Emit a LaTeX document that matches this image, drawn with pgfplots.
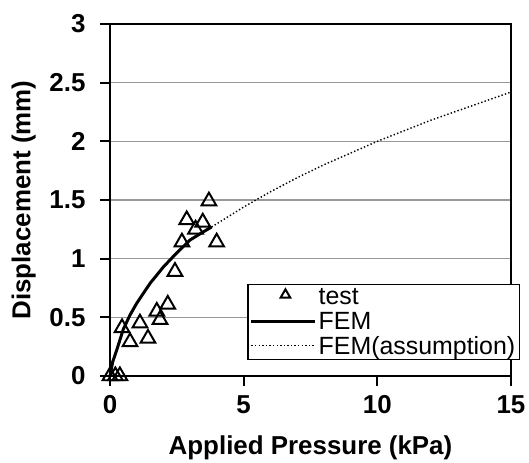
\documentclass[border=0pt]{standalone}
\usepackage{pgfplots}
\pgfplotsset{compat=1.18}
\usepackage{fontspec}
\setmainfont{Liberation Sans}
\begin{document}
\begin{tikzpicture}
\useasboundingbox (-110bp,-87bp) rectangle (419bp,376bp);
\begin{axis}[
  scale only axis,
  width=401bp, height=352bp,
  xmin=0, xmax=15, ymin=0, ymax=3,
  xtick={0,5,10,15},
  ytick={0,0.5,1,1.5,2,2.5,3},
  xtick pos=left, ytick pos=left,
  tick align=outside,
  major tick length=10bp,
  axis line style={black, line width=2.2pt},
  every tick/.style={black, line width=2.2pt},
  ymajorgrids,
  major grid style={gray!80, line width=1.3pt},
  /pgf/number format/assume math mode=true,
  tick label style={font=\fontsize{26}{28}\selectfont\bfseries},
  xticklabel style={yshift=-6bp},
  yticklabel style={xshift=-11bp},
  xlabel={Applied Pressure (kPa)},
  ylabel={Displacement (mm)},
  every axis x label/.style={at={(axis description cs:0.5,-0.224)}, anchor=base, font=\fontsize{26}{28}\selectfont\bfseries},
  every axis y label/.style={at={(axis description cs:-0.215,0.5)}, rotate=90, anchor=center, font=\fontsize{26}{28}\selectfont\bfseries},
  legend style={at={(rel axis cs:1.022,0.045)}, anchor=south east, draw=black, line width=1.2pt,
    font=\fontsize{25}{27}\selectfont, cells={anchor=west}, inner sep=2bp, row sep=1.5bp},
  clip=false,
]
\addplot[only marks, mark=triangle, mark size=8.5bp, mark options={line width=2pt, black, fill=none},
  legend image code/.code={\draw[line width=0.9pt, mark=triangle, mark size=5.5bp] plot coordinates {(1.2cm,0.1cm)}; \path (0cm,0cm) (2.25cm,0cm);}]
coordinates {
(0,0.0) (0.2,0.0) (0.37,0.0)
(0.45,0.41) (0.75,0.29) (1.12,0.45) (1.42,0.32)
(1.75,0.55) (1.87,0.48) (2.16,0.61) (2.43,0.89)
(2.69,1.14) (2.87,1.33) (3.2,1.25) (3.47,1.31) (3.7,1.49) (3.99,1.14)
};
\addlegendentry{test}
\addplot[black, line width=3pt, no marks,
  legend image code/.code={\draw[black, line width=3pt] (0cm,0cm) -- (2.25cm,0cm);}]
coordinates {
(0,0) (0.1,0.12) (0.25,0.22) (0.5,0.40) (0.75,0.52) (1,0.62) (1.5,0.79) (2,0.93)
(2.5,1.05) (3,1.16) (3.5,1.23) (3.8,1.27)
};
\addlegendentry{FEM}
\addplot[black, line width=1.4pt, dash pattern=on 1.4pt off 2.2pt, no marks,
  legend image code/.code={\draw[black, line width=1.2pt, dash pattern=on 1.4pt off 2.2pt] (0cm,0cm) -- (2.25cm,0cm);}]
coordinates {
(3.8,1.27) (5,1.44) (6,1.57) (7,1.69) (8,1.80) (9,1.90) (10,2.00)
(11,2.09) (12,2.18) (13,2.26) (14,2.34) (15,2.42)
};
\addlegendentry{FEM(assumption)}
\end{axis}
\end{tikzpicture}
\end{document}
